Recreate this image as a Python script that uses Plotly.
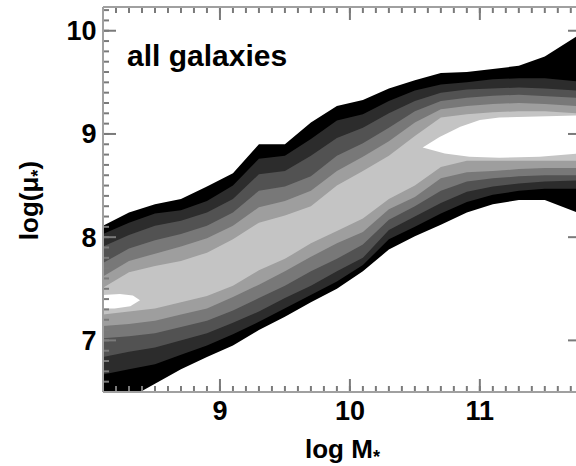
import numpy as np
import plotly.graph_objects as go

# Stellar-mass sample points (log M*) at which the density-level edges are traced
log_mass = [8.1, 8.3, 8.5, 8.7, 8.9, 9.1, 9.3, 9.5, 9.7, 9.9, 10.1, 10.3,
            10.5, 10.7, 10.9, 11.1, 11.3, 11.5, 11.75]

# Upper / lower edges of each nested density level, outermost (lowest density) first
lvl1_upper = [8.11, 8.24, 8.32, 8.37, 8.49, 8.62, 8.90, 8.90, 9.11, 9.27, 9.33, 9.44,
              9.52, 9.59, 9.60, 9.63, 9.66, 9.75, 9.95]
lvl1_lower = [6.37, 6.44, 6.58, 6.72, 6.84, 6.95, 7.10, 7.23, 7.37, 7.50, 7.67, 7.88,
              8.01, 8.12, 8.24, 8.32, 8.36, 8.36, 8.24]

lvl2_upper = [8.03, 8.14, 8.23, 8.26, 8.35, 8.50, 8.76, 8.79, 8.95, 9.13, 9.19, 9.32,
              9.42, 9.48, 9.50, 9.53, 9.54, 9.54, 9.51]
lvl2_lower = [6.67, 6.72, 6.77, 6.86, 6.95, 7.06, 7.18, 7.31, 7.44, 7.57, 7.73, 7.98,
              8.10, 8.23, 8.34, 8.41, 8.45, 8.47, 8.47]

lvl3_upper = [7.91, 8.02, 8.11, 8.16, 8.24, 8.37, 8.61, 8.64, 8.79, 8.96, 9.06, 9.20,
              9.32, 9.40, 9.43, 9.44, 9.45, 9.44, 9.42]
lvl3_lower = [6.84, 6.89, 6.93, 7.00, 7.07, 7.17, 7.28, 7.41, 7.53, 7.67, 7.80, 8.07,
              8.20, 8.33, 8.44, 8.49, 8.52, 8.54, 8.55]

lvl4_upper = [7.75, 7.89, 7.97, 8.03, 8.11, 8.24, 8.45, 8.49, 8.59, 8.79, 8.91, 9.06,
              9.22, 9.32, 9.35, 9.37, 9.38, 9.37, 9.35]
lvl4_lower = [7.02, 7.04, 7.07, 7.13, 7.19, 7.29, 7.41, 7.53, 7.67, 7.79, 7.93, 8.17,
              8.30, 8.45, 8.54, 8.57, 8.59, 8.60, 8.60]

lvl5_upper = [7.62, 7.77, 7.84, 7.91, 7.99, 8.11, 8.29, 8.35, 8.45, 8.64, 8.78, 8.93,
              9.11, 9.24, 9.27, 9.29, 9.30, 9.29, 9.27]
lvl5_lower = [7.14, 7.16, 7.19, 7.25, 7.31, 7.42, 7.54, 7.67, 7.81, 7.94, 8.05, 8.27,
              8.39, 8.57, 8.63, 8.64, 8.66, 8.67, 8.67]

lvl6_upper = [7.51, 7.66, 7.72, 7.77, 7.85, 7.98, 8.14, 8.21, 8.30, 8.50, 8.64, 8.79,
              8.98, 9.16, 9.19, 9.21, 9.22, 9.22, 9.20]
lvl6_lower = [7.25, 7.28, 7.31, 7.37, 7.43, 7.53, 7.68, 7.79, 7.94, 8.06, 8.18, 8.37,
              8.50, 8.68, 8.74, 8.74, 8.74, 8.74, 8.74]

# Highest-density peaks (outline of each island)
peak_low_x = [8.1, 8.23, 8.33, 8.385, 8.31, 8.19, 8.1]
peak_low_y = [7.44, 7.45, 7.435, 7.39, 7.33, 7.31, 7.31]
peak_high_x = [10.56, 10.69, 10.85, 11.0, 11.15, 11.46, 11.75,
               11.75, 11.46, 11.15, 10.92, 10.73]
peak_high_y = [8.87, 8.97, 9.07, 9.135, 9.16, 9.17, 9.18,
               8.81, 8.78, 8.77, 8.78, 8.81]

level_colors = ["#000000", "#2c2c2c", "#525252", "#787878", "#9e9e9e", "#c4c4c4"]
peak_color = "#ffffff"

# axis extents and tick values
x_range = [8.1, 11.74]
y_range = [6.5, 10.23]
x_major = [9, 10, 11]
y_major = [7, 8, 9, 10]
x_minor = np.round(np.arange(8.1, 11.74, 0.1), 1)
y_minor = np.round(np.arange(6.5, 10.23, 0.1), 1)

FONT = "Liberation Sans, Arial, sans-serif"
AXIS_GREY = "#a0a0a0"
TICK_GREY = "#7a7a7a"

W, H = 576, 466
M_L, M_R, M_T, M_B = 103, 0, 7, 74
PLOT_W, PLOT_H = W - M_L - M_R, H - M_T - M_B
MAJOR_LEN, MINOR_LEN, RIGHT_LEN = 13, 6, 8

fig = go.Figure()

bands = [(lvl1_upper, lvl1_lower), (lvl2_upper, lvl2_lower), (lvl3_upper, lvl3_lower),
         (lvl4_upper, lvl4_lower), (lvl5_upper, lvl5_lower), (lvl6_upper, lvl6_lower)]

for (upper, lower), colour in zip(bands, level_colors):
    fig.add_trace(go.Scatter(
        x=log_mass + log_mass[::-1],
        y=upper + lower[::-1],
        mode="lines", fill="toself", fillcolor=colour,
        line=dict(width=0, color=colour),
        hoverinfo="skip", showlegend=False,
    ))

for px, py in [(peak_low_x, peak_low_y), (peak_high_x, peak_high_y)]:
    fig.add_trace(go.Scatter(
        x=px, y=py, mode="lines", fill="toself", fillcolor=peak_color,
        line=dict(width=0, color=peak_color), hoverinfo="skip", showlegend=False,
    ))

# inward tick marks on the frame, expressed in axis units (pixel length -> data length)
x_per_px = (x_range[1] - x_range[0]) / PLOT_W
y_per_px = (y_range[1] - y_range[0]) / PLOT_H
tx, ty = [], []
for vals, length in [(x_minor, MINOR_LEN), (x_major, MAJOR_LEN)]:
    for v in vals:
        tx += [v, v, None, v, v, None]
        ty += [y_range[0], y_range[0] + length * y_per_px, None,
               y_range[1], y_range[1] - length * y_per_px, None]
for vals, length in [(y_minor, MINOR_LEN), (y_major, MAJOR_LEN)]:
    for v in vals:
        tx += [x_range[0], x_range[0] + length * x_per_px, None]
        ty += [v, v, None]
for v in y_major:
    tx += [x_range[1], x_range[1] - RIGHT_LEN * x_per_px, None]
    ty += [v, v, None]

fig.add_trace(go.Scatter(
    x=tx, y=ty, mode="lines", line=dict(color=TICK_GREY, width=2),
    connectgaps=False, hoverinfo="skip", showlegend=False,
))

# frame: left, bottom and top edges
frame_line = dict(color=AXIS_GREY, width=2)
shapes = [
    dict(type="line", xref="paper", yref="paper", x0=0, x1=0, y0=0, y1=1, line=frame_line),
    dict(type="line", xref="paper", yref="paper", x0=0, x1=1, y0=0, y1=0, line=frame_line),
    dict(type="line", xref="paper", yref="paper", x0=0, x1=1, y0=1, y1=1, line=frame_line),
]

tick_font = dict(family=FONT, size=27, color="#000000")

fig.update_layout(
    width=W, height=H,
    margin=dict(l=M_L, r=M_R, t=M_T, b=M_B),
    paper_bgcolor="#ffffff", plot_bgcolor="#ffffff",
    showlegend=False,
    xaxis=dict(
        range=x_range, tickmode="array", tickvals=x_major,
        ticktext=[f"<b>{v}</b>" for v in x_major], ticks="",
        showline=False, showgrid=False, zeroline=False, automargin=False,
        tickfont=tick_font,
    ),
    yaxis=dict(
        range=y_range, tickmode="array", tickvals=y_major,
        ticktext=[f"<b>{v}\u2009</b>" for v in y_major], ticks="",
        showline=False, showgrid=False, zeroline=False, automargin=False,
        tickfont=tick_font,
    ),
    shapes=shapes,
    annotations=[
        dict(text="<b>all galaxies</b>", xref="paper", yref="paper", x=0.0465, y=0.875,
             xanchor="left", yanchor="middle", showarrow=False,
             font=dict(family=FONT, size=30, color="#000000")),
        dict(text="<b>log M<sub>*</sub></b>", xref="paper", yref="paper", x=0.507, y=-0.152,
             xanchor="center", yanchor="middle", showarrow=False,
             font=dict(family=FONT, size=26, color="#000000")),
        dict(text="<b>log(μ<sub>*</sub>)</b>", xref="paper", yref="paper", x=-0.154, y=0.496,
             xanchor="center", yanchor="middle", textangle=-90, showarrow=False,
             font=dict(family=FONT, size=26, color="#000000")),
    ],
)

fig.write_html("out.html")
